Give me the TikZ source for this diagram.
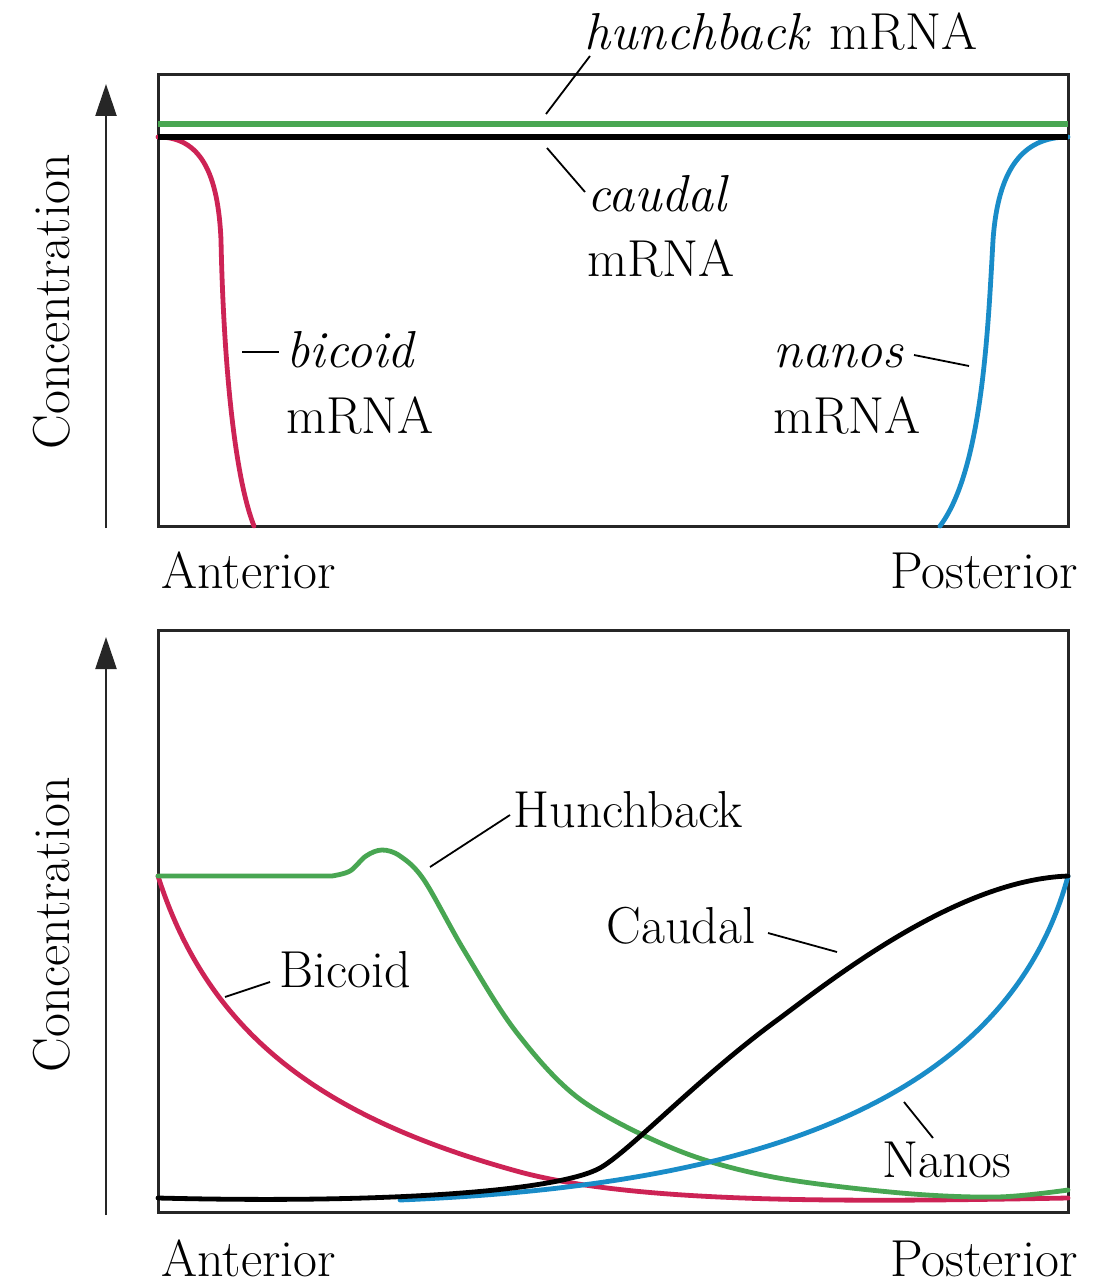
\documentclass[tikz,border=0pt]{standalone}
\usetikzlibrary{arrows.meta}
\definecolor{hbgreen}{RGB}{72,166,82}
\definecolor{bcdred}{RGB}{205,35,85}
\definecolor{nosblue}{RGB}{25,140,200}
\tikzset{
  frame/.style={draw=black!85, line width=1.5pt},
  axisarrow/.style={draw=black!85, line width=1.2pt, -{Triangle[length=16pt,width=10.5pt]}},
  curve/.style={line width=2.4pt, line cap=round, line join=round},
  leader/.style={draw=black, line width=0.9pt},
  lbl/.style={inner sep=0pt, anchor=base west, font=\fontsize{26}{30}\selectfont},
  lblr/.style={inner sep=0pt, anchor=base east, font=\fontsize{26}{30}\selectfont},
  ylbl/.style={inner sep=0pt, rotate=90, anchor=center, font=\fontsize{26}{30}\selectfont}
}
\begin{document}
\begin{tikzpicture}[x=0.5pt,y=-0.5pt]
\useasboundingbox (0,0) rectangle (1102,1288);
\fill[white] (0,0) rectangle (1102,1288);

% ---------- top panel ----------
\draw[frame] (158,75) rectangle (1068,526);
\coordinate (ax1b) at (106,528);
\coordinate (ax1t) at (106,84);
\draw[axisarrow] (ax1b) -- (ax1t);
\node[ylbl] (conc1) at (52,302) {Concentration};

\draw[curve, draw=bcdred] (158,137) .. controls (200,137) and (218,172) .. (221,240)
  .. controls (223,340) and (232,470) .. (254,526);
\draw[curve, draw=nosblue] (1068,137) .. controls (1022,137) and (998,170) .. (993,240)
  .. controls (988,330) and (982,470) .. (940,526);
\draw[line width=3pt, draw=hbgreen] (158,124) -- (1068,124);
\draw[line width=3pt, draw=black] (158,137) -- (1068,137);

\node[lbl] (hbm) at (584,50) {\itshape hunchback\/ \upshape mRNA};
\node[lbl] (cdm) at (587,212) {\itshape caudal};
\node[lbl] (cdm2) at (587,277) {mRNA};
\node[lbl] (bcm) at (286,368) {\itshape bicoid};
\node[lbl] (bcm2) at (286,433) {mRNA};
\node[lbl] (nom) at (773,368) {\itshape nanos};
\node[lbl] (nom2) at (773,433) {mRNA};
\node[lbl] (ant1) at (161,588) {Anterior};
\node[lblr] (pos1) at (1078,588) {Posterior};

\coordinate (l1a) at (546,114); \coordinate (l1b) at (590,56);
\coordinate (l2a) at (547,148); \coordinate (l2b) at (585,192);
\coordinate (l3a) at (242,352); \coordinate (l3b) at (279,352);
\coordinate (l4a) at (914,355); \coordinate (l4b) at (969,366);
\draw[leader] (l1a) -- (l1b);
\draw[leader] (l2a) -- (l2b);
\draw[leader] (l3a) -- (l3b);
\draw[leader] (l4a) -- (l4b);

% ---------- bottom panel ----------
\draw[frame] (158,630) rectangle (1068,1212);
\coordinate (ax2b) at (106,1215);
\coordinate (ax2t) at (106,637);
\draw[axisarrow] (ax2b) -- (ax2t);
\node[ylbl] (conc2) at (52,925) {Concentration};

% Bicoid
\draw[curve, draw=bcdred] (158,876) .. controls (210,1040) and (330,1120) .. (520,1172)
  .. controls (640,1204) and (850,1202) .. (1068,1198);
% Hunchback
\draw[curve, draw=hbgreen] (158,876) -- (332,876)
  plot[smooth, tension=0.55] coordinates
  {(332,876) (350,871) (366,856) (382,850) (400,856) (424,880) (465,952) (517,1033) (581,1100) (677,1150) (773,1177) (901,1193) (997,1197) (1068,1190)};
% Nanos
\draw[curve, draw=nosblue] (400,1200) .. controls (690,1188) and (1000,1130) .. (1068,876);
% Caudal
\draw[curve, draw=black] (158,1198) .. controls (400,1204) and (560,1190) .. (600,1168)
  .. controls (630,1151) and (700,1076) .. (780,1018)
  .. controls (840,973) and (960,880) .. (1068,876);

\node[lbl] (hbp) at (513,827) {Hunchback};
\node[lbl] (cdp) at (606,943) {Caudal};
\node[lbl] (bcp) at (279,987) {Bicoid};
\node[lbl] (nop) at (882,1177) {Nanos};
\node[lbl] (ant2) at (161,1276) {Anterior};
\node[lblr] (pos2) at (1078,1276) {Posterior};

\coordinate (m1a) at (430,867); \coordinate (m1b) at (510,815);
\coordinate (m2a) at (768,933); \coordinate (m2b) at (837,952);
\coordinate (m3a) at (225,997); \coordinate (m3b) at (270,982);
\coordinate (m4a) at (904,1102); \coordinate (m4b) at (933,1138);
\draw[leader] (m1a) -- (m1b);
\draw[leader] (m2a) -- (m2b);
\draw[leader] (m3a) -- (m3b);
\draw[leader] (m4a) -- (m4b);
\end{tikzpicture}
\end{document}
